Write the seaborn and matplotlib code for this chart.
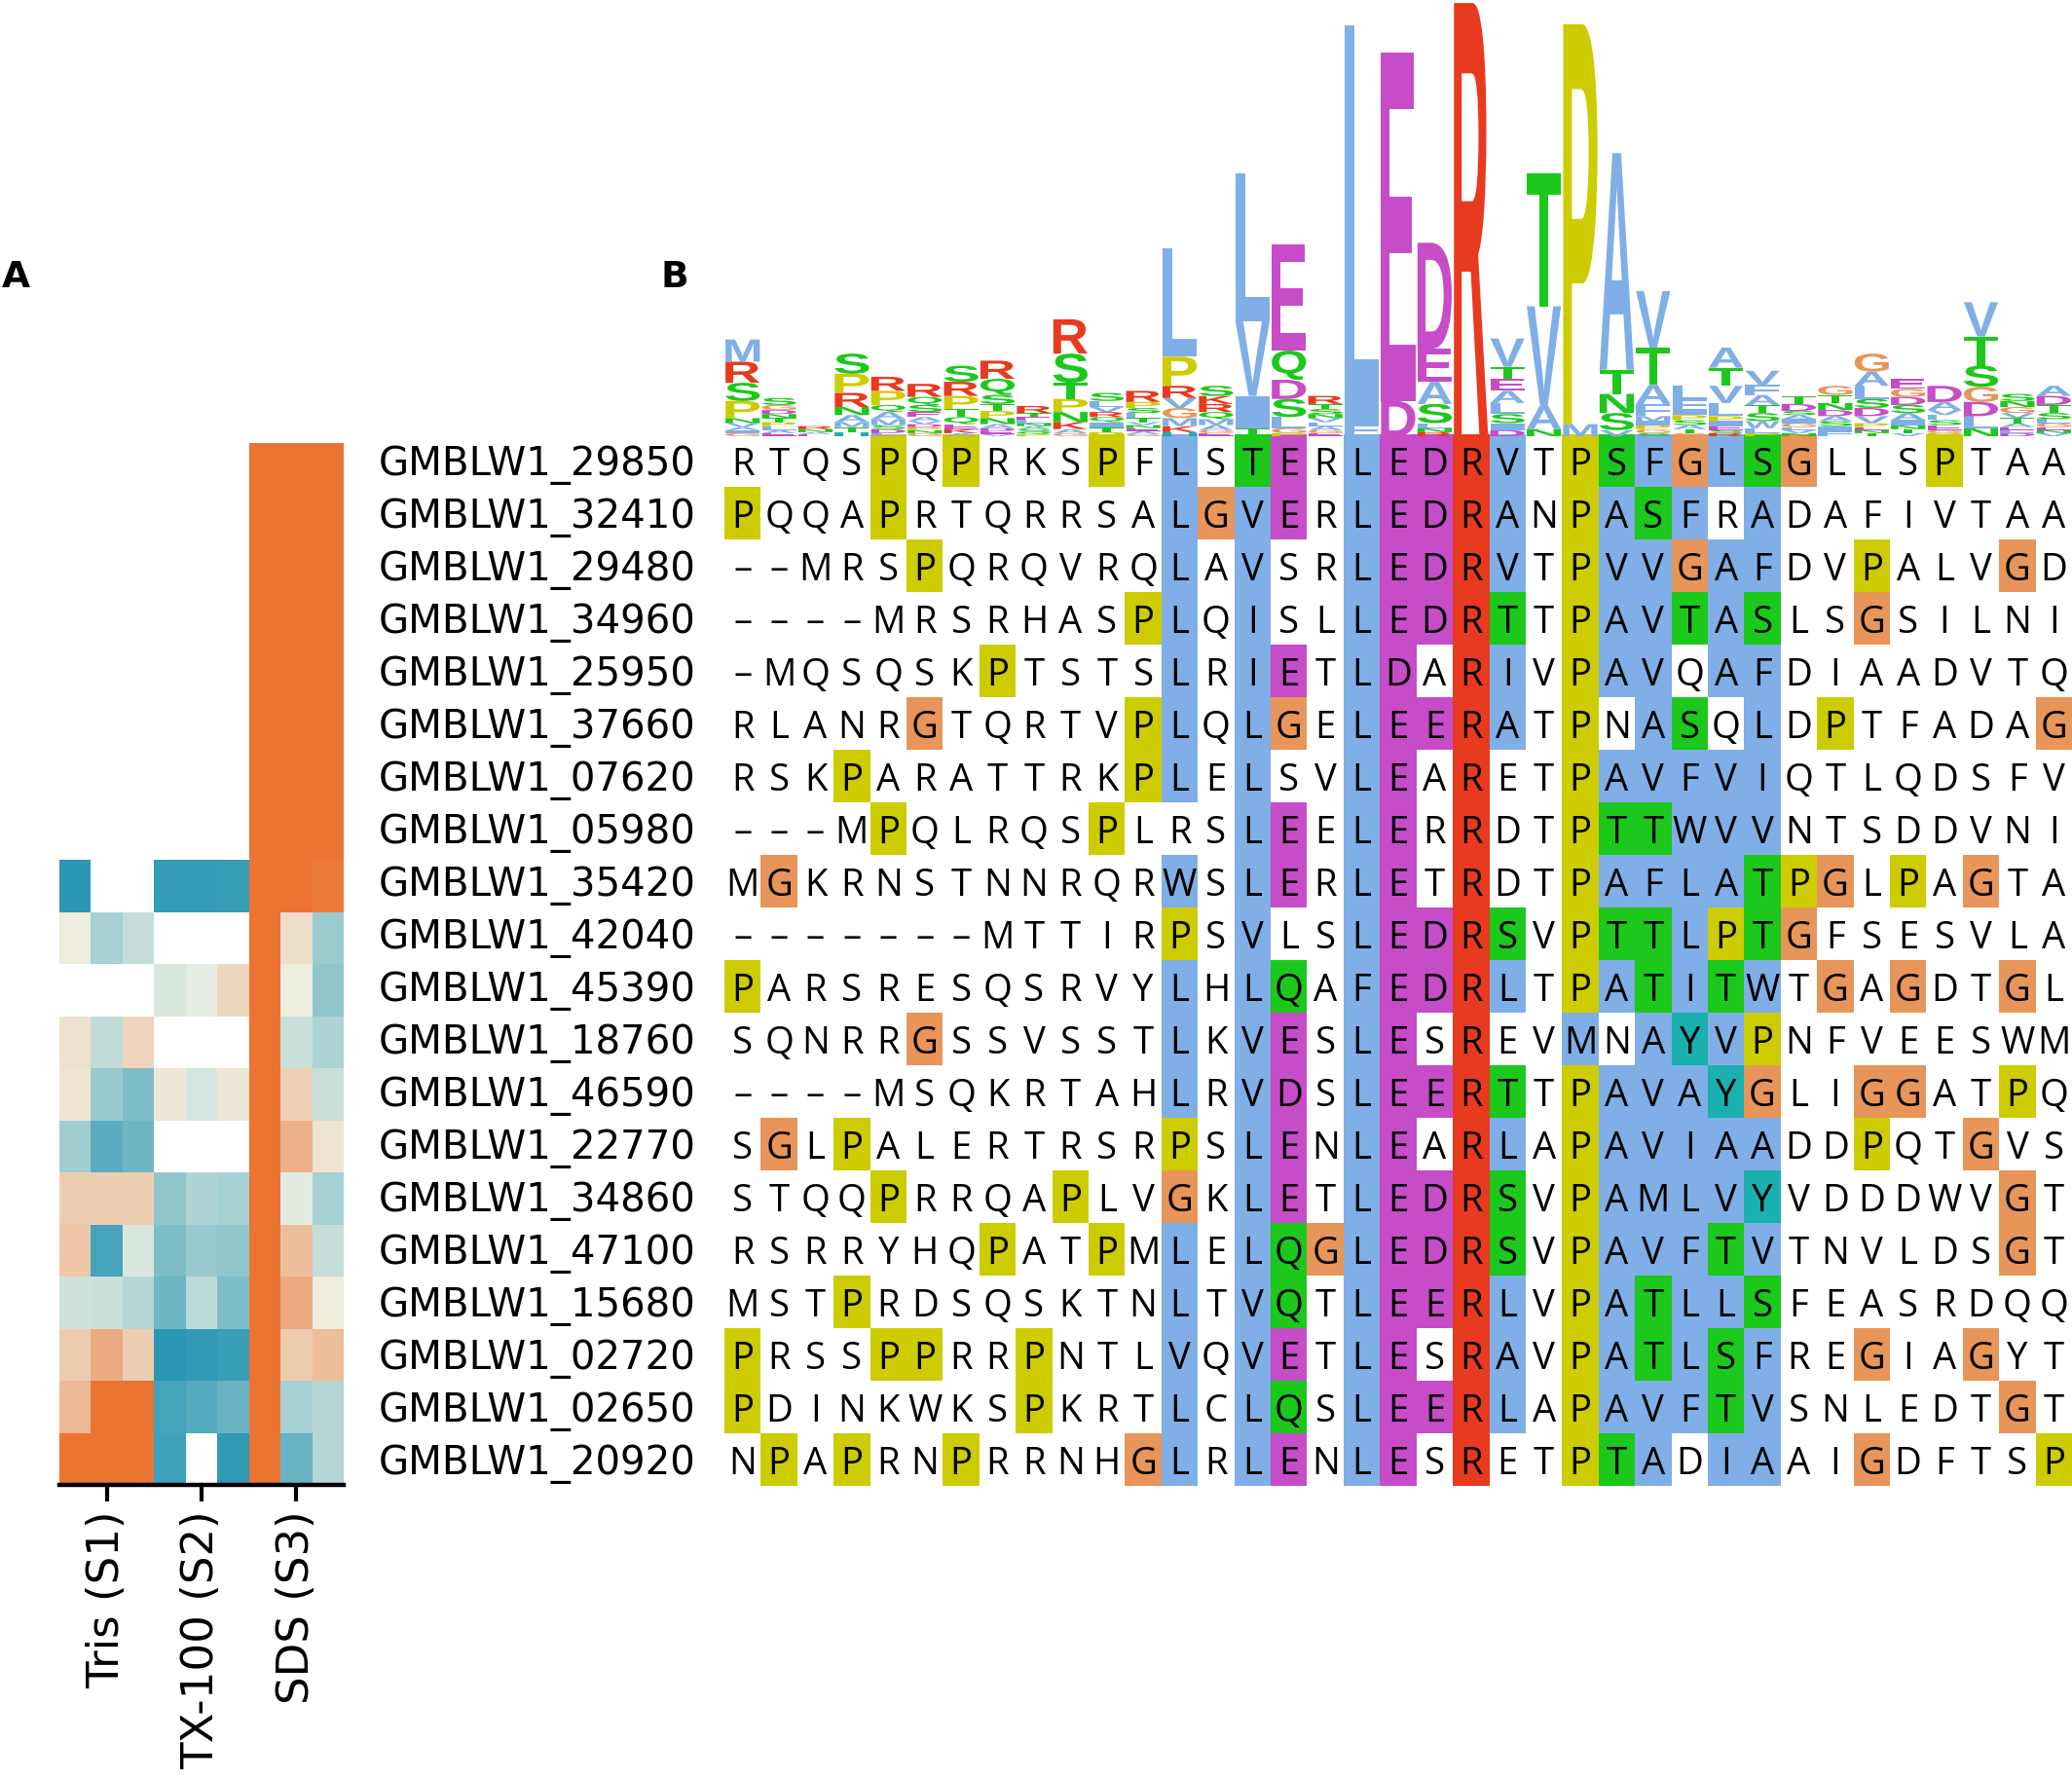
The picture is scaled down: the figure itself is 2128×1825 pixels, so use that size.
import numpy as np
import matplotlib
matplotlib.use("Agg")
import matplotlib.pyplot as plt
import seaborn as sns
from matplotlib.colors import LinearSegmentedColormap, ListedColormap
from matplotlib.textpath import TextPath
from matplotlib.font_manager import FontProperties
from matplotlib.patches import PathPatch
from matplotlib.transforms import Affine2D

plt.rcParams['font.family'] = ['DejaVu Sans']

# ---------------- data ----------------
names = ["GMBLW1_29850", "GMBLW1_32410", "GMBLW1_29480", "GMBLW1_34960", "GMBLW1_25950",
         "GMBLW1_37660", "GMBLW1_07620", "GMBLW1_05980", "GMBLW1_35420", "GMBLW1_42040",
         "GMBLW1_45390", "GMBLW1_18760", "GMBLW1_46590", "GMBLW1_22770", "GMBLW1_34860",
         "GMBLW1_47100", "GMBLW1_15680", "GMBLW1_02720", "GMBLW1_02650", "GMBLW1_20920"]

sequences = ["RTQSPQPRKSPFLSTERLEDRVTPSFGLSGLLSPTAA",
             "PQQAPRTQRRSALGVERLEDRANPASFRADAFIVTAA",
             "--MRSPQRQVRQLAVSRLEDRVTPVVGAFDVPALVGD",
             "----MRSRHASPLQISLLEDRTTPAVTASLSGSILNI",
             "-MQSQSKPTSTSLRIETLDARIVPAVQAFDIAADVTQ",
             "RLANRGTQRTVPLQLGELEERATPNASQLDPTFADAG",
             "RSKPARATTRKPLELSVLEARETPAVFVIQTLQDSFV",
             "---MPQLRQSPLRSLEELERRDTPTTWVVNTSDDVNI",
             "MGKRNSTNNRQRWSLERLETRDTPAFLATPGLPAGTA",
             "-------MTTIRPSVLSLEDRSVPTTLPTGFSESVLA",
             "PARSRESQSRVYLHLQAFEDRLTPATITWTGAGDTGL",
             "SQNRRGSSVSSTLKVESLESREVMNAYVPNFVEESWM",
             "----MSQKRTAHLRVDSLEERTTPAVAYGLIGGATPQ",
             "SGLPALERTRSRPSLENLEARLAPAVIAADDPQTGVS",
             "STQQPRRQAPLVGKLETLEDRSVPAMLVYVDDDWVGT",
             "RSRRYHQPATPMLELQGLEDRSVPAVFTVTNVLDSGT",
             "MSTPRDSQSKTNLTVQTLEERLVPATLLSFEASRDQQ",
             "PRSSPPRRPNTLVQVETLESRAVPATLSFREGIAGYT",
             "PDINKWKSPKRTLCLQSLEERLAPAVFTVSNLEDTGT",
             "NPAPRNPRRNHGLRLENLESRETPTADIAAIGDFTSP"]

# residues shaded in each alignment column (G and P are always shaded)
shaded = ["", "", "", "", "", "", "", "", "", "", "", "",
          "AILMFWVC", "", "AILMFWVCST", "EDQ", "", "AILMFWVC", "ED", "ED", "KR",
          "AILMFWVCST", "", "AILMFWVC", "AILMFWVCST", "AILMFWVCST",
          "AILMFWVCSTHY", "AILMFWVCSTHY", "AILMFWVCSTHY",
          "", "", "", "", "", "", "", ""]

# sequence logo: letter heights (bits) per column
logo = [
    {"M": .22, "R": .21, "P": .17, "S": .18, "G": .03, "I": .03, "A": .03, "N": .05, "V": .04},
    {"S": .07, "G": .05, "L": .04, "P": .04, "T": .04, "N": .04, "D": .04, "E": .03, "A": .03},
    {"N": .03, "R": .03, "E": .02, "A": .02},
    {"P": .19, "S": .20, "R": .14, "A": .07, "N": .08, "T": .05, "H": .04, "M": .05},
    {"P": .14, "R": .14, "A": .07, "Q": .07, "D": .04, "M": .06, "L": .03, "S": .04},
    {"R": .13, "Q": .08, "S": .07, "G": .03, "N": .03, "P": .03, "E": .05, "D": .03, "A": .04, "V": .03},
    {"S": .16, "P": .13, "R": .14, "Q": .07, "T": .08, "K": .04, "E": .05, "A": .03},
    {"R": .18, "Q": .16, "P": .07, "S": .09, "T": .07, "A": .04, "N": .06, "E": .03, "D": .03, "V": .02},
    {"R": .07, "T": .04, "P": .02, "S": .03, "A": .03, "N": .03, "L": .03, "E": .03, "Q": .02},
    {"R": .34, "S": .29, "P": .13, "T": .16, "N": .10, "K": .07, "G": .03, "A": .04},
    {"S": .08, "L": .06, "T": .05, "I": .05, "P": .04, "Q": .05, "R": .05, "V": .05},
    {"R": .11, "L": .05, "P": .06, "S": .05, "T": .04, "A": .03, "E": .03, "N": .03, "V": .03, "G": .02},
    {"L": 1.08, "P": .29, "G": .10, "R": .12, "H": .04, "K": .06, "M": .08, "V": .10},
    {"S": .10, "R": .08, "K": .08, "Q": .07, "E": .03, "G": .03, "M": .06, "A": .05},
    {"L": 1.47, "V": .74, "I": .32, "T": .08},
    {"E": 1.05, "Q": .29, "D": .19, "S": .18, "L": .11, "G": .05, "P": .03},
    {"R": .08, "S": .05, "T": .05, "E": .03, "A": .04, "L": .04, "V": .04, "G": .03, "N": .04},
    {"L": 3.96, "F": .12},
    {"E": 3.46, "D": .35},
    {"D": 1.05, "E": .33, "A": .22, "S": .19, "L": .05, "R": .04, "N": .04},
    {"R": 4.30},
    {"V": .28, "A": .12, "E": .12, "L": .11, "I": .07, "S": .09, "T": .12, "D": .06},
    {"T": 1.32, "V": .99, "A": .23, "N": .07},
    {"P": 3.97, "M": .12},
    {"A": 2.15, "T": .24, "N": .19, "S": .17, "V": .06},
    {"V": .56, "T": .37, "A": .19, "F": .12, "G": .04, "M": .05, "P": .04, "S": .03, "I": .04},
    {"L": .14, "F": .09, "I": .06, "G": .03, "S": .05, "P": .05, "T": .04, "A": .04},
    {"A": .20, "T": .18, "V": .17, "L": .13, "I": .05, "P": .05, "E": .04, "R": .03, "S": .03},
    {"V": .14, "A": .10, "S": .08, "F": .10, "L": .05, "T": .08, "P": .03, "W": .07},
    {"T": .08, "D": .07, "G": .04, "I": .04, "A": .04, "S": .04, "N": .03, "V": .03, "L": .03},
    {"G": .09, "T": .08, "D": .06, "F": .05, "I": .05, "N": .07, "S": .05, "A": .05},
    {"G": .18, "A": .14, "L": .13, "D": .08, "S": .09, "V": .07, "P": .04, "T": .03, "N": .03, "E": .03},
    {"E": .10, "S": .08, "D": .08, "G": .08, "A": .07, "I": .05, "T": .04, "N": .04, "V": .03},
    {"D": .16, "A": .08, "E": .05, "S": .05, "L": .05, "V": .05, "P": .03, "G": .03},
    {"V": .34, "T": .29, "S": .21, "G": .15, "D": .14, "L": .12, "N": .08},
    {"G": .06, "S": .07, "N": .06, "T": .05, "V": .05, "A": .04, "D": .03, "L": .03, "E": .03},
    {"A": .10, "T": .08, "D": .09, "S": .06, "G": .04, "L": .04, "V": .03, "N": .03, "E": .03},
]

conditions = ["Tris (S1)", "TX-100 (S2)", "SDS (S3)"]
nan = np.nan
tris = [[nan, nan, nan]] * 8 + [
    [-0.95, nan, nan], [0.03, -0.35, -0.20], [nan, nan, nan], [0.12, -0.22, 0.22],
    [0.10, -0.42, -0.55], [-0.38, -0.72, -0.62], [0.28, 0.28, 0.28], [0.33, -0.82, -0.10],
    [-0.15, -0.18, -0.28], [0.30, 0.55, 0.28], [0.45, 1.0, 1.0], [1.0, 1.0, 1.0]]
tx100 = [[nan, nan, nan]] * 8 + [
    [-0.90, -0.90, -0.88], [nan, nan, nan], [-0.10, -0.04, 0.20], [nan, nan, nan],
    [0.08, -0.12, 0.08], [nan, nan, nan], [-0.45, -0.30, -0.35], [-0.55, -0.42, -0.45],
    [-0.62, -0.25, -0.55], [-0.95, -0.92, -0.88], [-0.82, -0.75, -0.65], [-0.85, nan, -0.92]]
sds = [[1.0, 1.0, 1.0]] * 8 + [
    [1.0, 1.0, 0.95], [1.0, 0.15, -0.40], [1.0, 0.02, -0.45], [1.0, -0.18, -0.32],
    [1.0, 0.25, -0.18], [1.0, 0.50, 0.10], [1.0, -0.05, -0.35], [1.0, 0.40, -0.20],
    [1.0, 0.55, 0.03], [1.0, 0.30, 0.42], [1.0, -0.35, -0.28], [1.0, -0.65, -0.28]]

# ---------------- styles ----------------
res_colors = {
    "blue": "#80AEE6", "red": "#E83A1E", "magenta": "#C64CC8", "green": "#1CC81C",
    "orange": "#E8955A", "yellow": "#CCCC00", "cyan": "#1AB0B0", "white": "#FFFFFF",
}
group_of = {}
for aa in "AILMFWVC":
    group_of[aa] = "blue"
for aa in "KR":
    group_of[aa] = "red"
for aa in "ED":
    group_of[aa] = "magenta"
for aa in "NQST":
    group_of[aa] = "green"
for aa in "HY":
    group_of[aa] = "cyan"
group_of["G"] = "orange"
group_of["P"] = "yellow"

cat_names = ["white", "blue", "red", "magenta", "green", "orange", "yellow", "cyan"]
cat_index = {c: i for i, c in enumerate(cat_names)}

W, H = 2128, 1825
fig = plt.figure(figsize=(W / 100, H / 100), dpi=100)

def fx(px):
    return px / W

def fy(px):
    return 1 - px / H

# ---------------- panel A: heatmap ----------------
hm = np.hstack([np.array(tris), np.array(tx100), np.array(sds)])
cmap = LinearSegmentedColormap.from_list("teal_orange", ["#2093B2", "#EEF0E3", "#EC7433"])
axA = fig.add_axes([fx(61), fy(1525), fx(353 - 61), (1525 - 455) / H])
sns.heatmap(hm, ax=axA, cmap=cmap, vmin=-1, vmax=1, cbar=False,
            xticklabels=False, yticklabels=False, linewidths=0)
group_centers = [i * 3 + 1.5 for i in range(len(conditions))]
axA.set_xticks(group_centers)
axA.set_xticklabels(conditions, rotation=90, fontsize=32.5, va="top", ha="center")
axA.set_yticks([])
axA.spines["bottom"].set_visible(True)
axA.spines["bottom"].set_linewidth(3.2)
axA.spines["bottom"].set_color("black")
axA.tick_params(axis="x", length=12, width=3, pad=7, color="black", bottom=True)

# ---------------- panel B: alignment ----------------
nrow, ncol = len(sequences), len(sequences[0])
codes = np.zeros((nrow, ncol))
letters = np.empty((nrow, ncol), dtype=object)
for i, s in enumerate(sequences):
    for j, aa in enumerate(s):
        letters[i, j] = "\u2013" if aa == "-" else aa
        if aa in "GP" or (aa in shaded[j]):
            codes[i, j] = cat_index[group_of[aa]]
        else:
            codes[i, j] = 0

axB = fig.add_axes([fx(744), fy(1526), fx(2128 - 744), (1526 - 446) / H])
cat_cmap = ListedColormap([res_colors[c] for c in cat_names])
sns.heatmap(codes, ax=axB, cmap=cat_cmap, vmin=-0.5, vmax=len(cat_names) - 0.5,
            cbar=False, annot=letters, fmt="", linewidths=0,
            annot_kws={"fontsize": 27.5, "color": "black", "family": "Open Sans",
                       "va": "center_baseline"},
            xticklabels=False, yticklabels=names)
axB.set_yticklabels(names, rotation=0, fontsize=29, va="center_baseline")
axB.tick_params(axis="y", length=0, pad=21)

# ---------------- sequence logo ----------------
axL = fig.add_axes([fx(744), fy(448), fx(2128 - 744), 448 / H])
axL.set_xlim(0, ncol)
axL.set_ylim(0, 4.33)
axL.axis("off")
fp = FontProperties(family="Liberation Sans", weight="bold")
for j, col in enumerate(logo):
    y0 = 0.0
    stack = sorted(col.items(), key=lambda kv: kv[1])
    for aa, h in stack:
        path = TextPath((0, 0), aa, size=1, prop=fp)
        bb = path.get_extents()
        tr = (Affine2D().translate(-bb.x0, -bb.y0)
              .scale(0.94 / bb.width, h / bb.height)
              .translate(j + 0.03, y0))
        axL.add_patch(PathPatch(tr.transform_path(path), fc=res_colors[group_of[aa]],
                                ec="none", lw=0))
        y0 += h

# ---------------- panel labels ----------------
fig.text(fx(16), fy(285), "A", fontsize=27, fontweight="bold", ha="center", va="center")
fig.text(fx(693), fy(285), "B", fontsize=27, fontweight="bold", ha="center", va="center")

fig.savefig("out.png", dpi=100)
